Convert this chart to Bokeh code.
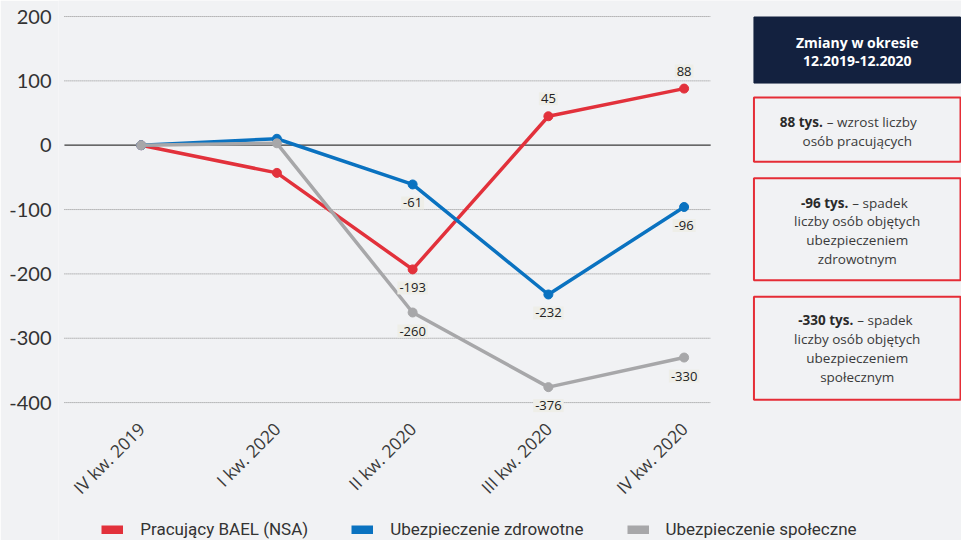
import math
from bokeh.plotting import figure
from bokeh.models import Range1d, FixedTicker, Legend, LegendItem
from bokeh.core.properties import value
from bokeh.embed import file_html
from bokeh.resources import INLINE

# ---- data ----
quarters = ["IV kw. 2019", "I kw. 2020", "II kw. 2020", "III kw. 2020", "IV kw. 2020"]
pracujacy = [0, -43, -193, 45, 88]
zdrowotne = [0, 10, -61, -232, -96]
spoleczne = [0, 3, -260, -376, -330]
series_names = ["Pracujący BAEL (NSA)", "Ubezpieczenie zdrowotne", "Ubezpieczenie społeczne"]
series_colors = ["#e2313b", "#0a72c0", "#a7a7a9"]
y_ticks = [-400, -300, -200, -100, 0, 100, 200]
y_tick_labels = ["-400", "-300", "-200", "-100", "0", "100", "200"]

header_lines = ["Zmiany w okresie", "12.2019-12.2020"]
box_bold = ["88 tys.", "-96 tys.", "-330 tys."]
box_first = ["– wzrost liczby", "– spadek", "– spadek"]
box_rest = [["osób pracujących"],
            ["liczby osób objętych", "ubezpieczeniem", "zdrowotnym"],
            ["liczby osób objętych", "ubezpieczeniem", "społecznym"]]

# ---- geometry: reference pixels -> canvas pixels -> data ----
W, H = 961, 540
SX, SY = W / 977, H / 556
def cx(rx): return rx * SX
def cy(ry): return ry * SY
CAT0, CAT_DX = cx(143), 138 * SX
ZERO, PX_UNIT = cy(149), 66.25 * SY / 100
def dx(c): return (c - CAT0) / CAT_DX
def dy(c): return (ZERO - c) / PX_UNIT

F_LEFT = 58
AXIS_Y = 413          # canvas y where the category axis sits

BG = "#f1f2f4"
p = figure(width=W, height=H, output_backend="svg", toolbar_location=None,
           x_range=Range1d(dx(F_LEFT), dx(W)),
           y_range=Range1d(dy(H), dy(0)),
           min_border_left=F_LEFT, min_border_right=0,
           min_border_top=0, min_border_bottom=0)
p.background_fill_color = BG
p.border_fill_color = BG
p.outline_line_color = None
p.xgrid.visible = False
p.ygrid.visible = False
# range far outside the view, used only so legend swatches get thick glyphs
p.extra_x_ranges = {"legend_only": Range1d(1000, 1001)}

# axes
for ax in (p.xaxis[0], p.yaxis[0]):
    ax.axis_line_color = None
    ax.major_tick_line_color = None
    ax.minor_tick_line_color = None
    ax.major_tick_out = 0
    ax.major_tick_in = 0
    ax.minor_tick_out = 0
    ax.minor_tick_in = 0

p.yaxis.ticker = FixedTicker(ticks=y_ticks)
p.yaxis.major_label_overrides = dict(zip(y_ticks, y_tick_labels))
p.yaxis.major_label_text_font = "Lato"
p.yaxis.major_label_text_font_size = "20px"
p.yaxis.major_label_text_color = "#333333"
p.yaxis.major_label_standoff = 7

xs = list(range(len(quarters)))
p.xaxis.ticker = FixedTicker(ticks=xs)
p.xaxis.fixed_location = dy(AXIS_Y)
p.xaxis.major_label_overrides = {i: q for i, q in enumerate(quarters)}
p.xaxis.major_label_orientation = math.pi / 4
p.xaxis.major_label_text_font = "Open Sans"
p.xaxis.major_label_text_font_size = "17.5px"
p.xaxis.major_label_text_color = "#3a3a3a"
p.xaxis.major_label_standoff = 12

# grid lines (dotted) and zero line
gx0, gx1 = dx(cx(65)), dx(cx(722))
gy = [t for t in y_ticks if t != 0]
p.segment(x0=[gx0] * len(gy), x1=[gx1] * len(gy), y0=gy, y1=gy,
          line_color="#8a8a8a", line_width=1, line_dash="1 1")
p.segment(x0=[gx0], x1=[gx1], y0=[0], y1=[0], line_color="#3a3a3a", line_width=1.2)

# series
all_series = [pracujacy, zdrowotne, spoleczne]
legend_items = []
for vals, col, name in zip(all_series, series_colors, series_names):
    p.line(xs, vals, line_color=col, line_width=3.5)
    p.scatter(xs, vals, size=9, fill_color=col, line_color=col)
    sw = p.line(xs, vals, line_color=col, line_width=9, x_range_name="legend_only")
    legend_items.append(LegendItem(label=name, renderers=[sw]))

# data labels (last three quarters)
for vals in all_series:
    for i in range(2, len(vals)):
        v = vals[i]
        off = -17.5 if v > 0 else 18.5
        p.text(x=[i], y=[v], text=[str(v)], y_offset=off,
               text_font=value("Open Sans"), text_font_size="13px",
               text_color="#222222", text_align="center", text_baseline="middle",
               background_fill_color="#eeeee8", padding=2)

# legend
LEG_H = 16
leg_center = cy(547)
legend = Legend(items=legend_items, orientation="horizontal",
                location=(cx(103) - F_LEFT, H - (leg_center + LEG_H / 2)),
                glyph_width=22, glyph_height=9, label_height=LEG_H,
                label_standoff=17, spacing=43,
                padding=0, margin=0, border_line_color=None, background_fill_alpha=0,
                label_text_font="Roboto", label_text_font_size="17px",
                label_text_color="#333333", label_text_baseline="middle")
p.add_layout(legend)

# right panel boxes
bx0, bx1 = dx(cx(766)), dx(W - 1)
tcx = dx(cx(871))
p.quad(left=[bx0], right=[bx1], top=[dy(cy(17))], bottom=[dy(cy(85))],
       fill_color="#13213f", line_color="#13213f")
for k, t in enumerate(header_lines):
    p.text(x=[tcx], y=[dy(cy(43 + 19 * k))], text=[t], text_font=value("Open Sans"),
           text_font_style="bold", text_font_size="14px", text_color="white",
           text_align="center", text_baseline="middle")

box_tops = [100, 183, 305]
box_bots = [166, 288, 411]
first_line_y = [125, 208, 329]
split_px = [838, 864, 869]
for b in range(3):
    p.quad(left=[bx0], right=[bx1], top=[dy(cy(box_tops[b]))], bottom=[dy(cy(box_bots[b]))],
           fill_alpha=0, line_color="#e52d36", line_width=2)
    yy = dy(cy(first_line_y[b]))
    p.text(x=[dx(cx(split_px[b]) - 2)], y=[yy], text=[box_bold[b]], text_font=value("Open Sans"),
           text_font_style="bold", text_font_size="13.5px", text_color="#2a2a2a",
           text_align="right", text_baseline="middle")
    p.text(x=[dx(cx(split_px[b]) + 2)], y=[yy], text=[box_first[b]], text_font=value("Open Sans"),
           text_font_size="13.5px", text_color="#3a3a3a",
           text_align="left", text_baseline="middle")
    for j, t in enumerate(box_rest[b]):
        p.text(x=[tcx], y=[dy(cy(first_line_y[b] + 19.5 * (j + 1)))], text=[t],
               text_font=value("Open Sans"), text_font_size="13.5px", text_color="#3a3a3a",
               text_align="center", text_baseline="middle")

open("out.html", "w").write(file_html(p, INLINE))
